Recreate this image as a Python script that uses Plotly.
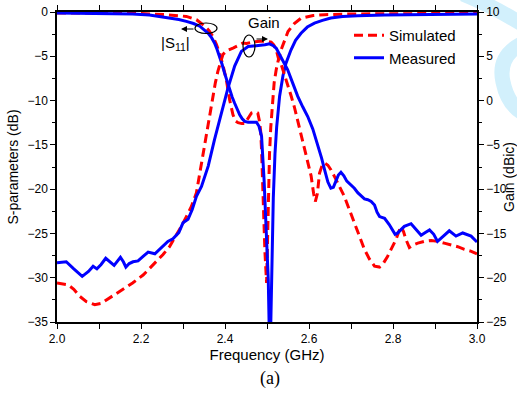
import plotly.graph_objects as go

# ---------------- data (left axis in dB; gain in dBic) ----------------
s11_meas_f = [2.00, 2.10, 2.18, 2.22, 2.26, 2.29, 2.308, 2.325, 2.34, 2.35, 2.36, 2.368, 2.375, 2.381,
              2.387, 2.393, 2.399, 2.405, 2.411, 2.417, 2.423, 2.429, 2.435, 2.441, 2.447, 2.455, 2.465,
              2.475, 2.481, 2.487, 2.493, 2.498, 2.503, 2.507, 2.511, 2.515, 2.519, 2.523, 2.530, 2.538,
              2.545, 2.557, 2.568, 2.581, 2.596, 2.613, 2.632, 2.652, 2.68, 2.716, 2.78, 2.85, 2.92, 3.00]
s11_meas_v = [-0.10, -0.15, -0.22, -0.35, -0.6, -0.85, -1.06, -1.3, -1.6, -1.95, -2.4, -2.9, -3.5, -4.2,
              -5.0, -5.9, -6.9, -7.9, -8.8, -9.6, -10.3, -11.0, -11.6, -12.05, -12.35, -12.45, -12.45,
              -12.45, -12.9, -14.0, -18.9, -24.6, -30.2, -40.0, -30.0, -21.0, -16.0, -13.0, -9.5, -7.2,
              -5.8, -4.3, -3.2, -2.4, -1.7, -1.25, -0.95, -0.68, -0.52, -0.42, -0.33, -0.28, -0.25, -0.23]

s11_sim_f = [2.00, 2.10, 2.20, 2.26, 2.308, 2.332, 2.352, 2.362, 2.371, 2.379, 2.387, 2.395, 2.403, 2.411,
             2.419, 2.425, 2.431, 2.440, 2.447, 2.455, 2.463, 2.470, 2.478, 2.482, 2.485, 2.487, 2.489,
             2.492, 2.495, 2.499, 2.501, 2.503, 2.506, 2.509, 2.513, 2.517, 2.522, 2.528, 2.535, 2.543,
             2.550, 2.565, 2.581, 2.61, 2.637, 2.70, 2.80, 3.00]
s11_sim_v = [-0.10, -0.12, -0.18, -0.3, -0.5, -0.87, -1.6, -2.1, -2.75, -3.6, -4.6, -6.0, -7.6, -9.9,
             -11.6, -12.3, -12.5, -12.6, -12.6, -12.0, -11.4, -11.3, -11.4, -12.3, -13.5, -15.5, -19.0,
             -23.0, -27.0, -30.6, -26.0, -20.0, -16.0, -13.0, -10.0, -8.0, -6.5, -5.2, -4.1, -3.0,
             -2.2, -1.3, -0.7, -0.4, -0.3, -0.22, -0.18, -0.15]

gain_meas_f = [2.000, 2.022, 2.040, 2.060, 2.075, 2.086, 2.095, 2.105, 2.116, 2.126, 2.136, 2.151, 2.158,
               2.164, 2.172, 2.181, 2.193, 2.205, 2.217, 2.233, 2.252, 2.264, 2.276, 2.290, 2.300, 2.312,
               2.322, 2.332, 2.344, 2.360, 2.375, 2.391, 2.407, 2.423, 2.439, 2.455, 2.470, 2.483, 2.495,
               2.506, 2.515, 2.522, 2.530, 2.538, 2.549, 2.561, 2.573, 2.585, 2.597, 2.609, 2.620, 2.630,
               2.637, 2.645, 2.652, 2.658, 2.664, 2.670, 2.676, 2.683, 2.690, 2.700, 2.708, 2.716, 2.732,
               2.740, 2.748, 2.756, 2.762, 2.768, 2.780, 2.791, 2.805, 2.810, 2.818, 2.827, 2.843, 2.855,
               2.867, 2.877, 2.887, 2.897, 2.906, 2.920, 2.934, 2.950, 2.966, 2.986, 3.000]
gain_meas_v = [-18.3, -18.2, -19.0, -19.85, -19.3, -18.7, -19.0, -18.5, -17.8, -18.2, -18.6, -17.7, -18.2,
               -18.8, -18.4, -18.2, -18.1, -17.6, -17.1, -17.3, -16.5, -15.9, -15.6, -14.9, -13.8, -13.4,
               -12.3, -10.8, -9.7, -7.4, -4.4, -1.4, 1.4, 3.9, 5.55, 6.1, 6.15, 6.2, 6.3,
               6.4, 6.2, 5.9, 5.2, 4.4, 3.5, 2.0, 0.5, -0.7, -1.8, -3.2, -4.8, -6.5,
               -7.8, -9.2, -9.9, -9.8, -9.1, -8.4, -8.1, -8.5, -9.1, -9.5, -9.9, -10.4, -11.1,
               -11.2, -11.4, -11.8, -12.6, -13.1, -13.3, -14.0, -15.1, -15.0, -14.6, -14.2, -13.9, -14.6,
               -15.2, -14.9, -14.6, -15.1, -15.9, -15.3, -14.7, -15.3, -14.95, -15.3, -15.97]

gain_sim_f = [2.000, 2.026, 2.040, 2.054, 2.070, 2.090, 2.105, 2.118, 2.140, 2.157, 2.180, 2.205, 2.220,
              2.236, 2.252, 2.268, 2.282, 2.296, 2.308, 2.320, 2.332, 2.340, 2.348, 2.356, 2.364, 2.371,
              2.377, 2.383, 2.389, 2.395, 2.403, 2.411, 2.419, 2.431, 2.443, 2.451, 2.465, 2.483, 2.500,
              2.510, 2.516, 2.522, 2.527, 2.533, 2.541, 2.549, 2.557, 2.565, 2.573, 2.581, 2.589, 2.597,
              2.605, 2.611, 2.615, 2.620, 2.625, 2.632, 2.637, 2.645, 2.652, 2.662, 2.672, 2.684, 2.696,
              2.708, 2.720, 2.732, 2.744, 2.756, 2.768, 2.778, 2.787, 2.797, 2.807, 2.813, 2.819, 2.825,
              2.831, 2.839, 2.849, 2.859, 2.875, 2.891, 2.907, 2.922, 2.938, 2.954, 2.970, 2.985, 3.000]
gain_sim_v = [-20.6, -20.8, -21.3, -22.1, -22.7, -23.05, -22.9, -22.5, -21.9, -21.35, -20.6, -19.7, -19.0,
              -18.2, -17.4, -16.5, -15.4, -14.2, -13.1, -11.95, -10.4, -8.2, -6.0, -3.7, -1.5, 0.5,
              2.0, 3.3, 4.4, 5.2, 5.6, 5.74, 5.93, 6.2, 6.5, 6.45, 6.6, 6.7, 6.7,
              6.6, 6.3, 5.74, 4.8, 4.2, 3.0, 2.0, 0.6, -0.7, -2.2, -3.7, -5.2, -6.7,
              -8.5, -10.5, -11.4, -10.5, -8.2, -7.2, -7.05, -7.3, -7.8, -8.7, -9.7, -10.8, -12.3,
              -13.8, -15.3, -16.8, -17.9, -18.7, -18.8, -18.3, -17.6, -16.6, -15.7, -14.9, -14.2, -14.8,
              -15.7, -16.6, -16.3, -16.1, -15.9, -15.8, -15.9, -16.1, -16.3, -16.5, -16.8, -17.0, -17.3]

x_ticks = [2.0, 2.2, 2.4, 2.6, 2.8, 3.0]
RED = "#FF0000"
BLUE = "#0000FF"
FONT = "Liberation Sans, Arial, sans-serif"

fig = go.Figure()
fig.add_trace(go.Scatter(x=s11_sim_f, y=s11_sim_v, mode="lines", name="Simulated",
                         line=dict(color=RED, width=3, dash="9px,5px"), showlegend=True))
fig.add_trace(go.Scatter(x=s11_meas_f, y=s11_meas_v, mode="lines", name="Measured",
                         line=dict(color=BLUE, width=3), showlegend=True))
fig.add_trace(go.Scatter(x=gain_sim_f, y=gain_sim_v, mode="lines", name="Simulated", yaxis="y2",
                         line=dict(color=RED, width=3, dash="9px,5px"), showlegend=False))
fig.add_trace(go.Scatter(x=gain_meas_f, y=gain_meas_v, mode="lines", name="Measured", yaxis="y2",
                         line=dict(color=BLUE, width=3), showlegend=False))

# pixel -> data helpers for annotations
def fx(px):
    return 2.0 + (px - 57.0) / 420.0

def fy(py):
    return -(py - 12.0) / (310.0 / 35.0)

def ppx(px):
    return (px - 57.0) / 420.0

def ppy(py):
    return (322.0 - py) / 310.0

shapes = [
    dict(type="circle", xref="x", yref="y", x0=fx(195), x1=fx(217), y0=fy(23), y1=fy(33.5),
         line=dict(color="black", width=1.2)),
    dict(type="circle", xref="x", yref="y", x0=fx(243), x1=fx(255), y0=fy(35), y1=fy(57),
         line=dict(color="black", width=1.2)),
]
# watermark-like light strokes on the right edge
wm = "#D2F0FC"
shapes.append(dict(type="path", xref="paper", yref="paper", layer="below",
                   path=f"M {ppx(463)},{ppy(-6)} Q {ppx(493)},{ppy(6)} {ppx(525)},{ppy(26)}",
                   line=dict(color=wm, width=15)))
shapes.append(dict(type="path", xref="paper", yref="paper", layer="below",
                   path=f"M {ppx(525)},{ppy(42)} Q {ppx(497)},{ppy(55)} {ppx(503)},{ppy(82)} "
                        f"Q {ppx(508)},{ppy(106)} {ppx(525)},{ppy(114)}",
                   line=dict(color=wm, width=15)))

annotations = [
    dict(x=fx(181), y=fy(29), xref="x", yref="y", ax=14, ay=0, text="", showarrow=True,
         arrowhead=2, arrowsize=1, arrowwidth=1.2, arrowcolor="black"),
    dict(x=fx(268), y=fy(39), xref="x", yref="y", ax=-13, ay=0, text="", showarrow=True,
         arrowhead=2, arrowsize=1, arrowwidth=1.2, arrowcolor="black"),
    dict(x=fx(175), y=fy(43), xref="x", yref="y", text="|S<sub>11</sub>|", showarrow=False,
         xanchor="center", yanchor="middle", font=dict(family=FONT, size=15, color="black")),
    dict(x=fx(264), y=fy(22), xref="x", yref="y", text="Gain", showarrow=False,
         xanchor="center", yanchor="middle", font=dict(family=FONT, size=15, color="black")),
    dict(x=ppx(509), y=ppy(177), xref="paper", yref="paper", text="Gain (dBic)", showarrow=False,
         xanchor="center", yanchor="middle",
         textangle=-90, font=dict(family=FONT, size=14, color="black")),
    dict(x=ppx(270), y=ppy(378), xref="paper", yref="paper", text="(a)", showarrow=False,
         xanchor="center", yanchor="middle",
         font=dict(family="Liberation Serif, Times New Roman, serif", size=18, color="black")),
]

axis_common = dict(showgrid=False, zeroline=False, showline=True, linecolor="black", linewidth=1.5,
                   ticks="outside", tickcolor="black", tickwidth=1.2, ticklen=5, automargin=False,
                   tickfont=dict(family=FONT, size=12, color="black"))

fig.update_layout(
    width=517, height=393,
    margin=dict(l=57, r=40, t=12, b=71, autoexpand=False),
    paper_bgcolor="white", plot_bgcolor="rgba(0,0,0,0)",
    xaxis=dict(range=[2.0, 3.0], tickvals=x_ticks, tickformat=".1f", mirror="allticks",
               minor=dict(dtick=0.1, ticks="outside", ticklen=3, tickcolor="black", tickwidth=1.2),
               title=dict(text="Frequency (GHz)", font=dict(family=FONT, size=15, color="black"), standoff=4),
               **axis_common),
    yaxis=dict(range=[-35, 0], dtick=5,
               minor=dict(dtick=2.5, ticks="outside", ticklen=3, tickcolor="black", tickwidth=1.2),
               title=dict(text="S-parameters (dB)", font=dict(family=FONT, size=14, color="black"), standoff=6),
               **axis_common),
    yaxis2=dict(range=[-25, 10], dtick=5, overlaying="y", side="right",
                minor=dict(dtick=2.5, ticks="outside", ticklen=3, tickcolor="black", tickwidth=1.2),
                **axis_common),
    legend=dict(x=ppx(349), y=ppy(19), xanchor="left", yanchor="top", bgcolor="rgba(0,0,0,0)",
                font=dict(family=FONT, size=15, color="black"), tracegroupgap=0, itemwidth=30),
    shapes=shapes,
    annotations=annotations,
)

fig.write_html("out.html")
